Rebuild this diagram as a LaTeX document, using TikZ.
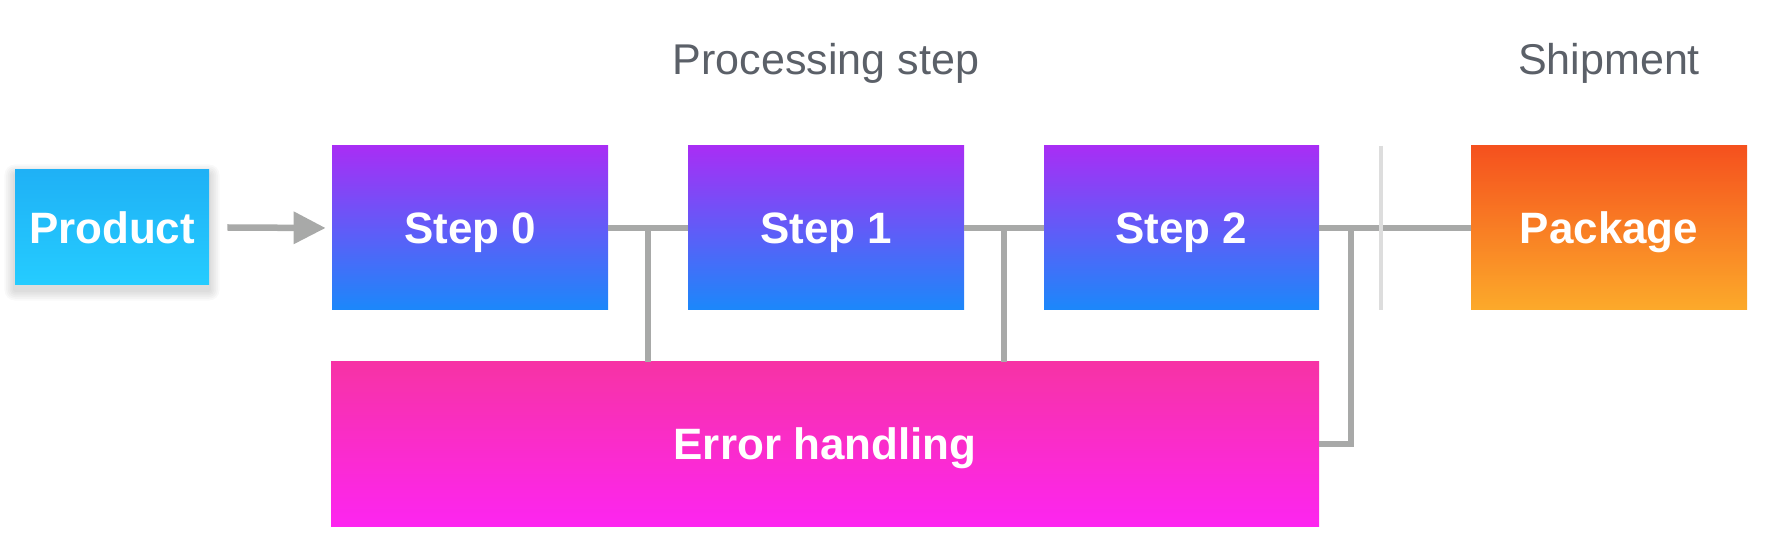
\documentclass[tikz,border=0pt]{standalone}
\usepackage{fontspec}
\setmainfont{Liberation Sans}
\usetikzlibrary{calc,arrows.meta}
\definecolor{linegray}{RGB}{168,169,168}
\definecolor{divgray}{RGB}{221,221,221}
\definecolor{headgray}{RGB}{91,96,104}

\begin{document}
\begin{tikzpicture}[
		box/.style={minimum width=5.52cm, minimum height=3.28cm, inner sep=0pt, text height=17.9pt, text depth=0pt, text=white, font=\fontsize{25}{30}\selectfont\bfseries},
		stepbox/.style={box, top color={rgb,255:red,168;green,46;blue,245}, bottom color={rgb,255:red,27;green,136;blue,250}},
		link/.style={draw=linegray, line width=0.13cm},
		head/.style={text=headgray, text height=17.5pt, text depth=0pt, font=\fontsize{24.5}{29}\selectfont}
	]
		%%%%% START %%%%%
		
		\useasboundingbox (0, 0) rectangle (35.4, 11);
		
		% soft shadow under the product
		\foreach \i in {1,...,6}
			\fill[black, opacity=0.025, rounded corners=\i pt] ($(0.30, 5.20)+(-\i pt, -\i pt)$) rectangle ($(4.18, 7.50)+(\i pt, \i pt)$);
		
		\node[box, minimum width=3.88cm, minimum height=2.3cm, top color={rgb,255:red,31;green,177;blue,246}, bottom color={rgb,255:red,37;green,204;blue,255}] (product) at (2.24, 6.45) {Product};
		
		\node[stepbox] (s0) at (9.40, 6.44) {Step 0};
		\node[stepbox] (s1) at (16.52, 6.44) {Step 1};
		\node[stepbox, minimum width=5.5cm] (s2) at (23.63, 6.44) {Step 2};
		\node[box, top color={rgb,255:red,245;green,81;blue,30}, bottom color={rgb,255:red,252;green,170;blue,42}] (pack) at (32.18, 6.44) {Package};
		\node[box, minimum width=19.76cm, top color={rgb,255:red,247;green,51;blue,165}, bottom color={rgb,255:red,253;green,37;blue,240}] (err) at (16.50, 2.12) {Error handling};
		
		\node[head] (proc) at (16.52, 9.82) {Processing step};
		\node[head] (ship) at (32.18, 9.82) {Shipment};
		
		\coordinate (j0) at ($(s0.east)!0.5!(s1.west)$);
		\coordinate (j1) at ($(s1.east)!0.5!(s2.west)$);
		\coordinate (j2) at (27.02, 6.44);
		\coordinate (a0) at ($(product.east)+(0.36, 0)$);
		\coordinate (a1) at ($(s0.west)+(-0.12, 0)$);
		
		\draw[link, -{Triangle[length=0.64cm, width=0.62cm]}] (a0) -- (a1);
		\draw[link] (s0.east) -- (s1.west);
		\draw[link] (s1.east) -- (s2.west);
		\draw[link] (s2.east) -- (pack.west);
		\draw[link] (j0) -- (j0 |- err.north);
		\draw[link] (j1) -- (j1 |- err.north);
		\draw[link] (err.east) -| (j2);
		
		\draw[divgray, line width=0.08cm] (27.62, 8.08) -- (27.62, 4.8);
		
		%%%%% END %%%%%
	\end{tikzpicture}
\end{document}
